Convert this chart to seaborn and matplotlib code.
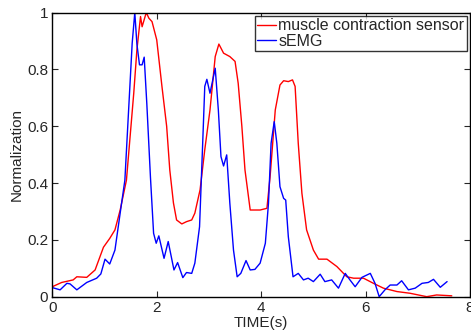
import matplotlib
matplotlib.use('Agg')
import matplotlib.pyplot as plt
import pandas as pd
import seaborn as sns

sns.set_style('ticks')
plt.rcParams['font.family'] = ['Liberation Sans', 'DejaVu Sans']

# muscle contraction sensor (red)
red_t = [0.0, 0.18, 0.40, 0.47, 0.66, 0.82, 0.98, 1.10, 1.20, 1.30,
         1.42, 1.56, 1.62, 1.69, 1.72, 1.80, 1.85, 1.91, 2.00, 2.10,
         2.19, 2.25, 2.32, 2.38, 2.48, 2.57, 2.67, 2.73, 2.83, 2.92,
         3.02, 3.12, 3.19, 3.28, 3.40, 3.50, 3.56, 3.63, 3.69, 3.79,
         3.88, 3.98, 4.11, 4.17, 4.27, 4.36, 4.43, 4.52, 4.60, 4.65,
         4.71, 4.78, 4.87, 5.00, 5.10, 5.26, 5.45, 5.64, 5.77, 5.96,
         6.15, 6.34, 6.60, 6.85, 7.17, 7.36, 7.65]
red_v = [0.035, 0.05, 0.059, 0.07, 0.068, 0.094, 0.174, 0.205, 0.235, 0.305,
         0.41, 0.716, 0.868, 0.986, 0.95, 1.0, 0.98, 0.968, 0.904, 0.74,
         0.60, 0.446, 0.33, 0.27, 0.256, 0.264, 0.27, 0.294, 0.376, 0.517,
         0.657, 0.845, 0.889, 0.857, 0.845, 0.828, 0.751, 0.60, 0.446, 0.305,
         0.305, 0.305, 0.311, 0.42, 0.657, 0.745, 0.76, 0.757, 0.763, 0.74,
         0.54, 0.364, 0.235, 0.164, 0.132, 0.132, 0.106, 0.07, 0.065, 0.065,
         0.047, 0.03, 0.018, 0.012, 0.0, 0.006, 0.003]

# sEMG (blue)
blue_t = [0.0, 0.15, 0.28, 0.34, 0.47, 0.66, 0.85, 0.93, 1.01, 1.10,
          1.20, 1.30, 1.39, 1.53, 1.58, 1.62, 1.67, 1.72, 1.76, 1.81,
          1.88, 1.94, 1.99, 2.04, 2.14, 2.22, 2.33, 2.40, 2.50, 2.57,
          2.67, 2.73, 2.82, 2.88, 2.92, 2.96, 3.02, 3.12, 3.18, 3.23,
          3.28, 3.34, 3.40, 3.47, 3.54, 3.61, 3.71, 3.79, 3.88, 3.98,
          4.08, 4.14, 4.19, 4.25, 4.30, 4.36, 4.43, 4.47, 4.52, 4.61,
          4.71, 4.81, 4.90, 5.00, 5.13, 5.22, 5.35, 5.48, 5.61, 5.70,
          5.80, 5.93, 6.09, 6.18, 6.26, 6.37, 6.47, 6.60, 6.69, 6.82,
          6.95, 7.08, 7.20, 7.30, 7.43, 7.56]
blue_v = [0.032, 0.024, 0.047, 0.045, 0.024, 0.05, 0.065, 0.08, 0.132, 0.115,
          0.164, 0.294, 0.41, 0.892, 1.0, 0.89, 0.816, 0.816, 0.843, 0.68,
          0.42, 0.223, 0.188, 0.214, 0.135, 0.194, 0.094, 0.12, 0.067, 0.085,
          0.082, 0.118, 0.246, 0.54, 0.74, 0.765, 0.716, 0.804, 0.657, 0.493,
          0.46, 0.499, 0.329, 0.164, 0.07, 0.082, 0.127, 0.094, 0.096, 0.118,
          0.188, 0.329, 0.54, 0.616, 0.54, 0.387, 0.346, 0.34, 0.211, 0.07,
          0.082, 0.059, 0.065, 0.053, 0.079, 0.053, 0.059, 0.03, 0.082, 0.059,
          0.035, 0.068, 0.082, 0.047, 0.0, 0.024, 0.041, 0.041, 0.056, 0.024,
          0.03, 0.047, 0.05, 0.061, 0.033, 0.053]

series_names = ['muscle contraction sensor', 'sEMG']

df = pd.concat([
    pd.DataFrame({'t': red_t, 'v': red_v, 'series': series_names[0]}),
    pd.DataFrame({'t': blue_t, 'v': blue_v, 'series': series_names[1]}),
])

fig = plt.figure(figsize=(4.71, 3.30), dpi=100)
ax = fig.add_axes([0.111, 0.101, 0.887, 0.861])

sns.lineplot(data=df, x='t', y='v', hue='series', sort=False, estimator=None,
             palette={series_names[0]: '#ff0000', series_names[1]: '#0000ff'},
             linewidth=1.0, ax=ax)

ax.set_xlim(0, 8)
ax.set_ylim(0, 1)
ax.set_xticks([0, 2, 4, 6, 8])
ax.set_yticks([0, 0.2, 0.4, 0.6, 0.8, 1.0])
ax.set_yticklabels(['0', '0.2', '0.4', '0.6', '0.8', '1'])
ax.tick_params(direction='in', top=True, right=True, length=4, width=0.8,
               labelsize=11, pad=3)
for s in ax.spines.values():
    s.set_linewidth(1.0)
    s.set_color('black')
ax.set_xlabel('TIME(s)', fontsize=11, labelpad=1)
ax.set_ylabel('Normalization', fontsize=11, labelpad=2)

handles, labels = ax.get_legend_handles_labels()
leg = ax.legend(handles, labels, loc='upper right', fontsize=11.5,
                frameon=True, fancybox=False, edgecolor='black',
                handlelength=1.2, handletextpad=0.15, borderpad=0.15,
                labelspacing=0.05, borderaxespad=0.2)
leg.get_frame().set_linewidth(1.0)

fig.savefig('out.png', dpi=100)
